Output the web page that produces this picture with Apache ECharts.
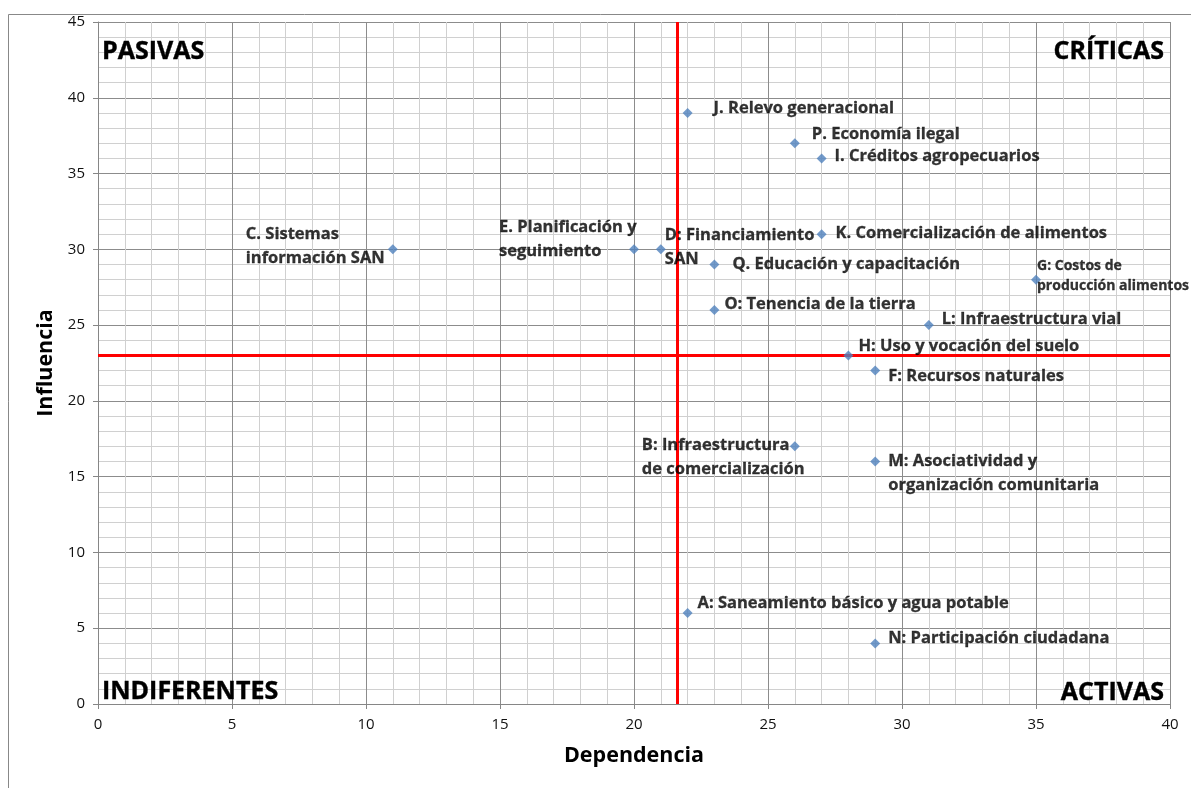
<!DOCTYPE html>
<html><head><meta charset="utf-8">
<script src="https://cdn.jsdelivr.net/npm/echarts@6/dist/echarts.min.js"></script>
<style>html,body{margin:0;padding:0;background:#fff}#c{width:1191px;height:788px}</style>
</head><body><div id="c"></div>
<script>
// Data
const names = [
  "J. Relevo generacional",
  "P. Economía ilegal",
  "I. Créditos agropecuarios",
  "C. Sistemas\ninformación SAN",
  "E. Planificación y\nseguimiento",
  "D: Financiamiento\nSAN",
  "K. Comercialización de alimentos",
  "Q. Educación y capacitación",
  "G: Costos de\nproducción alimentos",
  "O: Tenencia de la tierra",
  "L: Infraestructura vial",
  "H: Uso y vocación del suelo",
  "F: Recursos naturales",
  "B: Infraestructura\nde comercialización",
  "M: Asociatividad y\norganización comunitaria",
  "A: Saneamiento básico y agua potable",
  "N: Participación ciudadana"
];
const dependencia = [22, 26, 27, 11, 20, 21, 27, 23, 35, 23, 31, 28, 29, 26, 29, 22, 29];
const influencia  = [39, 37, 36, 30, 30, 30, 31, 29, 28, 26, 25, 23, 22, 17, 16, 6, 4];
const thresholdX = [21.6];
const thresholdY = [23];
const quadrants = ["PASIVAS", "CRÍTICAS", "INDIFERENTES", "ACTIVAS"];
const xTitle = "Dependencia";
const yTitle = "Influencia";

// Label placement (style, not data)
const labelOffsets = [
  [31,0],[22,-4],[18,3],[-142,2],[-130,-5],[9,3],[19,4],[23,5],[6,1],
  [15,-1],[18,-1],[15,-4],[18,11],[-148,16],[18,17],[15,-5],[18,0]
];
const labelFont = 'Open Sans';

const chart = echarts.init(document.getElementById('c'), null, {renderer: 'canvas'});

const points = names.map((n, i) => ({
  name: n,
  value: [dependencia[i], influencia[i]],
  label: {
    position: labelOffsets[i],
    fontSize: i === 8 ? 14 : 16.5,
    lineHeight: i === 8 ? 20 : 24
  }
}));

const quadStyle = {font: 'bold 25px "Open Sans"', fill: '#000', verticalAlign: 'middle', stroke: '#000', lineWidth: 0.4};

const axisLabelStyle = {fontFamily: 'Open Sans', fontSize: 15, color: '#111', margin: 13};

const option = {
  backgroundColor: '#fff',
  animation: false,
  grid: {left: 98, right: 21, top: 22, bottom: 84, containLabel: false},
  xAxis: {
    type: 'value', min: 0, max: 40, interval: 5,
    name: xTitle, nameLocation: 'middle', nameGap: 41,
    nameTextStyle: {fontFamily: labelFont, fontWeight: 'bold', fontSize: 21.5, color: '#000'},
    axisLine: {show: true, lineStyle: {color: '#868686'}},
    axisTick: {show: true, length: 5, lineStyle: {color: '#868686'}},
    axisLabel: axisLabelStyle,
    splitLine: {show: true, lineStyle: {color: '#8c8c8c', width: 1}},
    minorTick: {show: false, splitNumber: 5},
    minorSplitLine: {show: true, lineStyle: {color: '#d0d0d0', width: 1}}
  },
  yAxis: {
    type: 'value', min: 0, max: 45, interval: 5,
    name: yTitle, nameLocation: 'middle', nameGap: 41, nameRotate: 90,
    nameTextStyle: {fontFamily: labelFont, fontWeight: 'bold', fontSize: 21.5, color: '#000'},
    axisLine: {show: true, lineStyle: {color: '#868686'}},
    axisTick: {show: true, length: 5, lineStyle: {color: '#868686'}},
    axisLabel: axisLabelStyle,
    splitLine: {show: true, lineStyle: {color: '#8c8c8c', width: 1}},
    minorTick: {show: false, splitNumber: 5},
    minorSplitLine: {show: true, lineStyle: {color: '#d0d0d0', width: 1}}
  },
  series: [{
    type: 'scatter',
    symbol: 'diamond',
    symbolSize: 10,
    itemStyle: {color: '#4F81BD'},
    data: points,
    label: {
      show: true,
      formatter: p => p.name,
      align: 'left',
      verticalAlign: 'middle',
      fontFamily: labelFont,
      fontWeight: 'bold',
      color: '#000',
      textBorderColor: '#000',
      textBorderWidth: 0.3
    },
    labelLayout: {hideOverlap: false},
    markLine: {
      silent: true,
      symbol: 'none',
      label: {show: false},
      lineStyle: {color: '#ff0000', width: 3, type: 'solid'},
      data: [{xAxis: thresholdX[0]}, {yAxis: thresholdY[0]}]
    },
    z: 5
  }],
  graphic: [
    {type: 'rect', left: 6, top: 12, shape: {width: 1300, height: 900}, style: {fill: 'none', stroke: '#888', lineWidth: 1}, silent: true, z: -1},
    {type: 'text', z: 100, style: Object.assign({text: quadrants[0], x: 102, y: 52, align: 'left'}, quadStyle)},
    {type: 'text', z: 100, style: Object.assign({text: quadrants[1], x: 1164, y: 52, align: 'right'}, quadStyle)},
    {type: 'text', z: 100, style: Object.assign({text: quadrants[2], x: 102, y: 692, align: 'left'}, quadStyle)},
    {type: 'text', z: 100, style: Object.assign({text: quadrants[3], x: 1164, y: 693, align: 'right'}, quadStyle)}
  ]
};
chart.setOption(option);
</script>
</body></html>
